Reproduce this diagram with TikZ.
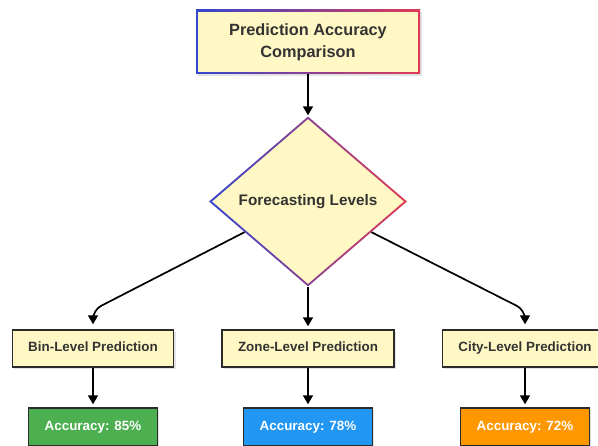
\documentclass[tikz,border=0pt]{standalone}
\usepackage{fontspec}
\setmainfont{Liberation Sans}
\usetikzlibrary{arrows.meta,shapes.geometric,shadows,calc}
\definecolor{boxfill}{HTML}{FFF8C4}
\definecolor{txt}{HTML}{333333}
\definecolor{edgec}{HTML}{2B2B2B}
\definecolor{gblue}{HTML}{3346D0}
\definecolor{gpurple}{HTML}{8A3C9C}
\definecolor{gred}{HTML}{E03A56}
\definecolor{accgreen}{HTML}{4CAF50}
\definecolor{accblue}{HTML}{2196F3}
\definecolor{accorange}{HTML}{FF9800}
\begin{document}
\begin{tikzpicture}[x=1pt,y=-1pt,
  arr/.style={draw=black, line width=1.7pt, -{Triangle[width=10pt,length=9pt]}},
  softshadow/.style={drop shadow={opacity=0.22,shadow xshift=2pt,shadow yshift=-2pt}},
  predbox/.style={rectangle, draw=edgec, line width=1.4pt, fill=boxfill, text=txt,
    minimum height=37pt, inner xsep=16pt, text height=9.8pt, text depth=2.8pt,
    font=\fontsize{13.4}{16}\selectfont\bfseries, softshadow},
  accbox/.style={rectangle, draw=edgec, line width=1.4pt, text=white,
    minimum height=38pt, inner xsep=16pt, text height=9.8pt, text depth=2.8pt,
    font=\fontsize{13.4}{16}\selectfont\bfseries, softshadow},
  ]
\clip (0,0) rectangle (598,446);
\fill[white] (0,0) rectangle (598,446);

% top box with gradient border
\node[rectangle, minimum width=224pt, minimum height=64pt, inner sep=0pt,
  left color=gblue, right color=gred, softshadow,
  path picture={\fill[boxfill] ([shift={(2pt,-2pt)}]path picture bounding box.north west) rectangle ([shift={(-2pt,2pt)}]path picture bounding box.south east);},
  align=center, text=txt, font=\fontsize{16.3}{22}\selectfont\bfseries]
  (top) at (308,42) {Prediction Accuracy\\Comparison};

% diamond with gradient border
\node[diamond, minimum width=198pt, minimum height=170pt, inner sep=0pt,
  left color=gblue, middle color=gpurple, right color=gred,
  path picture={\fill[boxfill] ([yshift=-2.6pt]path picture bounding box.north) -- ([xshift=-3.1pt]path picture bounding box.east) -- ([yshift=2.6pt]path picture bounding box.south) -- ([xshift=3.1pt]path picture bounding box.west) -- cycle;},
  text=txt, font=\fontsize{15.3}{18}\selectfont\bfseries]
  (dia) at (308,201.5) {Forecasting Levels};

% level boxes
\node[predbox] (bin)  at (93,348.5)  {Bin-Level Prediction};
\node[predbox] (zone) at (308,348.5) {Zone-Level Prediction};
\node[predbox] (city) at (525,348.5) {City-Level Prediction};

% accuracy boxes
\node[accbox, fill=accgreen]  (acc1) at (93,427)  {Accuracy: 85\%};
\node[accbox, fill=accblue]   (acc2) at (308,427) {Accuracy: 78\%};
\node[accbox, fill=accorange] (acc3) at (525,427) {Accuracy: 72\%};

% connectors
\coordinate (lstart) at ($(dia.west)!0.36!(dia.south)$);
\coordinate (rstart) at ($(dia.east)!0.36!(dia.south)$);
\coordinate (lbend) at (93,310);
\coordinate (rbend) at (525,310);

\draw[arr, shorten >=1pt] (top.south) -- (dia.north);
\draw[arr, rounded corners=9pt, shorten >=5pt] (lstart) -- (lbend) -- (bin.north);
\draw[arr, shorten >=3pt] (dia.south) -- (zone.north);
\draw[arr, rounded corners=9pt, shorten >=5pt] (rstart) -- (rbend) -- (city.north);

\draw[arr, shorten >=3pt] (bin.south) -- (acc1.north);
\draw[arr, shorten >=3pt] (zone.south) -- (acc2.north);
\draw[arr, shorten >=3pt] (city.south) -- (acc3.north);
\end{tikzpicture}
\end{document}
